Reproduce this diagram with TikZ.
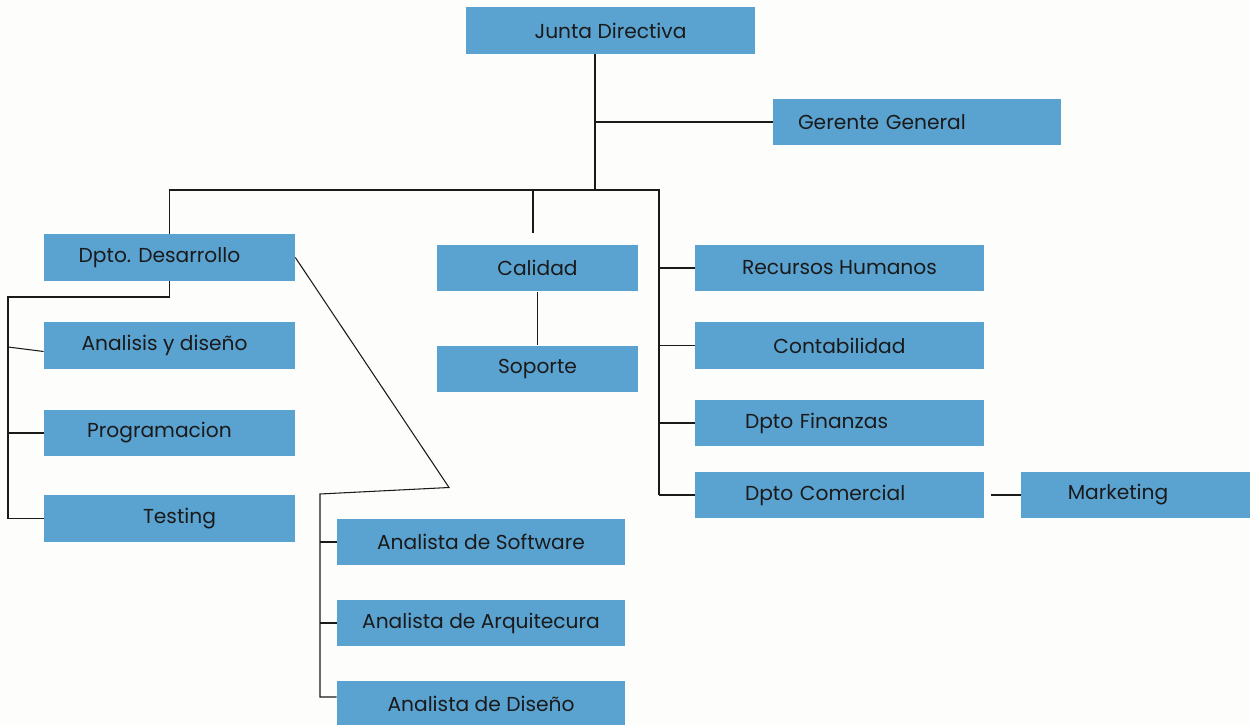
\documentclass[tikz,border=0pt]{standalone}
\usepackage{fontspec}
\setmainfont{Poppins}
\definecolor{boxblue}{RGB}{90,162,208}
\definecolor{ink}{RGB}{26,26,26}
\tikzset{
  unit/.style={rectangle,fill=boxblue,text=ink,minimum height=0.93cm,inner sep=0pt,
    font=\fontsize{11.5}{13}\selectfont},
  leftunit/.style={unit,align=left,text width=#1},
  link/.style={draw=ink,line width=0.6pt}
}
\begin{document}
\begin{tikzpicture}
  \useasboundingbox[fill={rgb,255:red,253;green,253;blue,251}] (0,0) rectangle (25,-14.5);

  \node[unit,minimum width=5.78cm] (jd) at (12.21,-0.61) {Junta Directiva};
  \node[unit,minimum width=5.76cm,leftunit=4.76cm,inner xsep=0.5cm] (gg) at (18.34,-2.44) {Gerente General};
  \node[unit,minimum width=5.02cm] (dd) at (3.39,-5.15) {\hspace*{-0.4cm}Dpto. Desarrollo};
  \node[unit,minimum width=4.02cm] (cal) at (10.75,-5.36) {Calidad};
  \node[unit,minimum width=4.02cm] (sop) at (10.75,-7.38) {Soporte};
  \node[unit,minimum width=5.78cm] (rh) at (16.79,-5.36) {Recursos Humanos};
  \node[unit,minimum width=5.78cm] (con) at (16.79,-6.91) {Contabilidad};
  \node[unit,leftunit=3.78cm,inner xsep=1cm] (fin) at (16.79,-8.46) {Dpto Finanzas};
  \node[unit,leftunit=3.78cm,inner xsep=1cm] (com) at (16.79,-9.90) {Dpto Comercial};
  \node[unit,minimum width=4.58cm] (mkt) at (22.71,-9.90) {\hspace*{-0.7cm}Marketing};
  \node[unit,minimum width=5.02cm] (ad) at (3.39,-6.91) {\hspace*{-0.2cm}Analisis y diseño};
  \node[unit,minimum width=5.02cm] (prog) at (3.39,-8.66) {\hspace*{-0.4cm}Programacion};
  \node[unit,minimum width=5.02cm] (test) at (3.39,-10.37) {\hspace*{0.4cm}Testing};
  \node[unit,minimum width=5.76cm] (asw) at (9.62,-10.84) {Analista de Software};
  \node[unit,minimum width=5.76cm] (aar) at (9.62,-12.46) {Analista de Arquitecura};
  \node[unit,minimum width=5.76cm] (adi) at (9.62,-14.08) {Analista de Diseño};

  % junta, gerente and the top bus
  \coordinate (b1) at (11.9,-3.8);
  \coordinate (br) at (13.18,-3.8);
  \coordinate (c1) at (10.66,-4.66);
  \draw[link] (jd.south -| b1) -- (b1);
  \draw[link] (b1 |- gg.west) -- (gg.west);
  \draw[link] (dd.north) |- (br) -- (br |- com.west);
  \draw[link] (c1 |- br) -- (c1);
  \draw[link] (cal.south -| sop) -- (sop.north);
  \foreach \n in {rh,con,fin,com}
    \draw[link] (br |- \n.west) -- (\n.west);
  \draw[link] ([xshift=0.14cm]com.east) -- (mkt.west);

  % desarrollo
  \coordinate (d1) at (0.16,-5.94);
  \coordinate (d2) at (0.16,-6.94);
  \draw[link] (dd.south) |- (d1) -- (d1 |- test.west) -- (test.west);
  \draw[link] (d1 |- prog.west) -- (prog.west);
  \draw[link] (d2) -- ([yshift=-0.12cm]ad.west);

  % analistas
  \coordinate (k1) at (8.98,-9.75);
  \coordinate (k2) at (6.4,-9.88);
  \coordinate (k3) at (6.4,-13.94);
  \draw[link] (dd.east) -- (k1) -- (k2) -- (k3) -- (k3 -| adi.west);
  \draw[link] (k2 |- asw.west) -- (asw.west);
  \draw[link] (k2 |- aar.west) -- (aar.west);
\end{tikzpicture}
\end{document}
